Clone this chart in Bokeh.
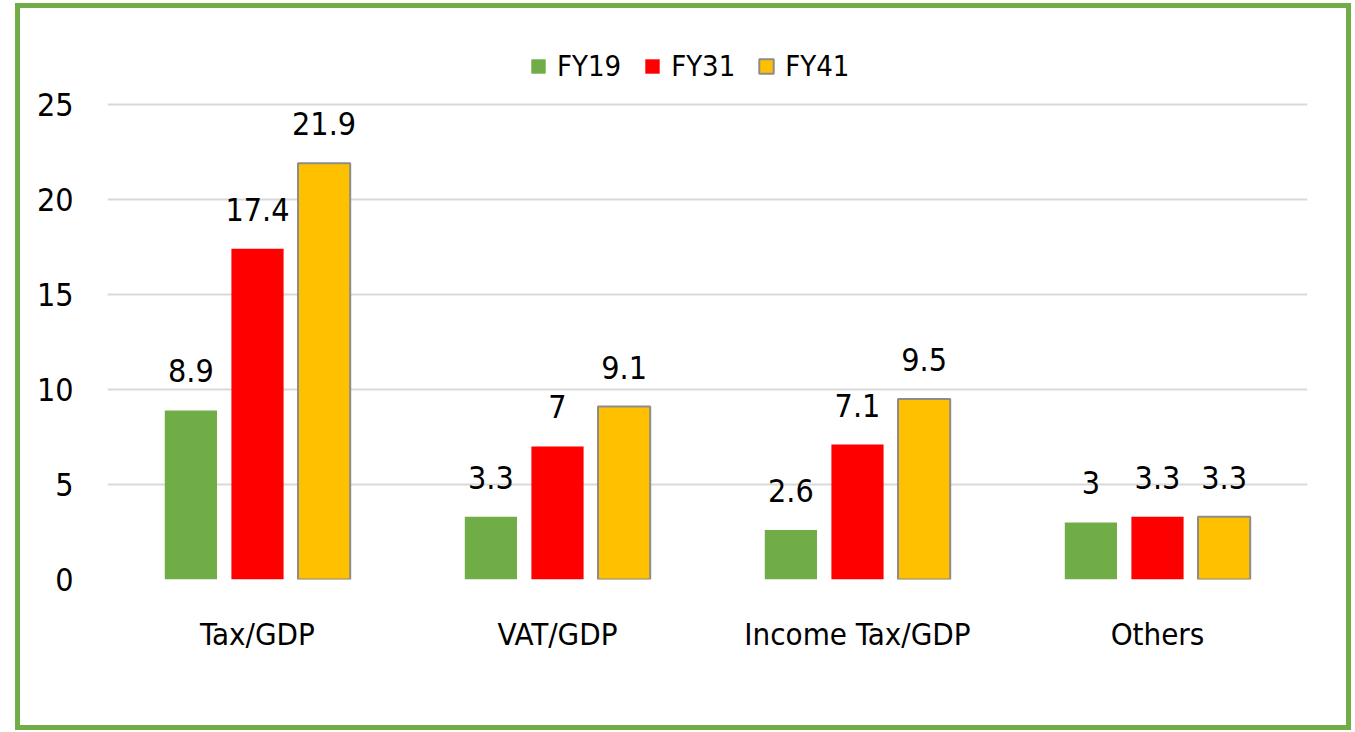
from bokeh.plotting import figure
from bokeh.models import ColumnDataSource, FactorRange, Range1d, LabelSet, Legend, LegendItem
from bokeh.transform import dodge
from bokeh.core.properties import value
from bokeh.embed import file_html
from bokeh.resources import INLINE

categories = ["Tax/GDP", "VAT/GDP", "Income Tax/GDP", "Others"]
series_names = ["FY19", "FY31", "FY41"]
fy19 = [8.9, 3.3, 2.6, 3.0]
fy31 = [17.4, 7.0, 7.1, 3.3]
fy41 = [21.9, 9.1, 9.5, 3.3]
y_ticks = [0, 5, 10, 15, 20, 25]

FONT = "Liberation Sans Narrow, DejaVu Sans Condensed, Roboto, sans-serif"
colors = ["#70AD47", "#FF0000", "#FFC000"]
outlines = [None, None, "#8C8C8C"]
offsets = [-0.222, 0.0, 0.222]

p = figure(x_range=FactorRange(*categories), y_range=Range1d(0, 28.47),
           width=1336, height=727, output_backend="svg", toolbar_location=None,
           min_border_left=87, min_border_right=49, min_border_top=30, min_border_bottom=156,
           styles={"border": "5px solid #70AD47", "margin-left": "15px", "margin-top": "3px"})
p.outline_line_color = None
p.background_fill_color = "white"
p.border_fill_color = "white"

renderers = []
for name, vals, col, oc, off in zip(series_names, [fy19, fy31, fy41], colors, outlines, offsets):
    src = ColumnDataSource(dict(cat=categories, val=vals, lab=[f"{v:g}" for v in vals]))
    r = p.vbar(x=dodge("cat", off, range=p.x_range), top="val", width=0.174, source=src,
               fill_color=col, line_color=oc, line_width=2 if oc else 0)
    renderers.append((name, r))
    lbl = LabelSet(x=dodge("cat", off, range=p.x_range), y="val", text="lab", source=src,
                   text_align="center", text_baseline="alphabetic", y_offset=28,
                   text_font=value(FONT), text_font_size="32px", text_color="#000000")
    p.add_layout(lbl)

legend = Legend(items=[LegendItem(label=n, renderers=[r]) for n, r in renderers],
                orientation="horizontal", location=(422, 496),
                glyph_width=18, glyph_height=18, label_standoff=10, spacing=22,
                label_text_font=FONT, label_text_font_size="29px", label_text_color="#000000",
                border_line_color=None, background_fill_alpha=0, padding=0, margin=0)
p.add_layout(legend, "center")

p.ygrid.grid_line_color = "#D9D9D9"
p.ygrid.grid_line_width = 2
p.xgrid.grid_line_color = None

p.yaxis.ticker = y_ticks
p.yaxis.axis_line_color = None
p.yaxis.major_tick_line_color = None
p.yaxis.minor_tick_line_color = None
p.yaxis.major_label_standoff = 28
p.yaxis.major_label_text_font = FONT
p.yaxis.major_label_text_font_size = "32px"
p.yaxis.major_label_text_color = "#000000"

p.xaxis.axis_line_color = None
p.xaxis.major_tick_line_color = None
p.xaxis.minor_tick_line_color = None
p.xaxis.major_label_standoff = 30
p.xaxis.major_label_text_font = FONT
p.xaxis.major_label_text_font_size = "31px"
p.xaxis.major_label_text_color = "#000000"

open("out.html", "w").write(file_html(p, INLINE))
